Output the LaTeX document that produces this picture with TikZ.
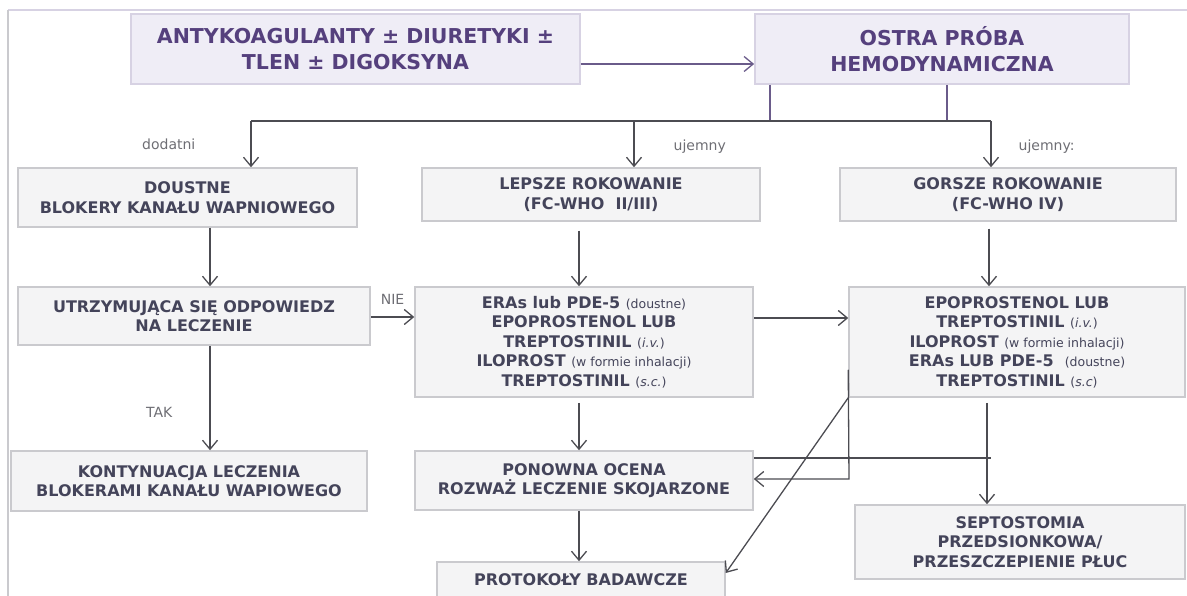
\documentclass[tikz,border=0pt]{standalone}
\usepackage{fontspec}
\setmainfont{DejaVu Sans}
\usetikzlibrary{arrows.meta}
\definecolor{filllila}{HTML}{EFEDF6}
\definecolor{ramalila}{HTML}{D7D2E3}
\definecolor{tekstlila}{HTML}{55407D}
\definecolor{linialila}{HTML}{6A5B8A}
\definecolor{fillszary}{HTML}{F4F4F5}
\definecolor{ramaszara}{HTML}{CACACE}
\definecolor{tekstszary}{HTML}{44445A}
\definecolor{liniaszara}{HTML}{4C4C52}
\definecolor{etykieta}{HTML}{6E6E74}
\newcommand{\drobne}[1]{{\fontsize{12.5}{15}\selectfont\mdseries #1}}

\begin{document}
\begin{tikzpicture}[x=1pt, y=-1pt, >={Straight Barb[length=9pt,width=15pt]},
		topbox/.style={draw=ramalila, line width=1.8pt, fill=filllila, text=tekstlila, align=center,
			font=\fontsize{20.5}{26}\selectfont\bfseries},
		lowbox/.style={draw=ramaszara, line width=1.5pt, fill=fillszary, text=tekstszary, align=center,
			font=\fontsize{16}{19.5}\selectfont\bfseries},
		conn/.style={draw=liniaszara, line width=1.3pt},
		lbl/.style={text=etykieta, font=\fontsize{14}{16}\selectfont, inner sep=1pt}]
		\useasboundingbox (0,0) rectangle (1187,596);
		% ramka
		\draw[ramalila, line width=1.5pt] (8,10) -- (1187,10);
		\draw[ramaszara, line width=1.5pt] (8,10) -- (8,596);

		\node (AK) [topbox, minimum width=449pt, minimum height=70pt] at (355.5,49) {ANTYKOAGULANTY ± DIURETYKI ±\\ TLEN ± DIGOKSYNA};
		\node (OPH) [topbox, minimum width=374pt, minimum height=70pt] at (942,49) {OSTRA PRÓBA\\ HEMODYNAMICZNA};

		\node (DBK) [lowbox, minimum width=339pt, minimum height=59pt] at (187.5,197.5) {DOUSTNE\\ BLOKERY KANAŁU WAPNIOWEGO};
		\node (LR) [lowbox, minimum width=338pt, minimum height=53pt] at (591,194.5) {LEPSZE ROKOWANIE\\ (FC-WHO\ \ II/III)};
		\node (GR) [lowbox, minimum width=336pt, minimum height=53pt] at (1008,194.5) {GORSZE ROKOWANIE\\ (FC-WHO IV)};

		\node (UOL) [lowbox, minimum width=352pt, minimum height=58pt] at (194,316) {UTRZYMUJĄCA SIĘ ODPOWIEDZ\\ NA LECZENIE};
		\node (ERA) [lowbox, minimum width=338pt, minimum height=110pt] at (584,342) {ERAs lub PDE-5 \drobne{(doustne)}\\ EPOPROSTENOL LUB\\ TREPTOSTINIL \drobne{(\textit{i.v.})}\\ ILOPROST \drobne{(w formie inhalacji)}\\ TREPTOSTINIL \drobne{(\textit{s.c.})}};
		\node (EPO) [lowbox, minimum width=336pt, minimum height=110pt] at (1017,342) {EPOPROSTENOL LUB\\ TREPTOSTINIL \drobne{(\textit{i.v.})}\\ ILOPROST \drobne{(w formie inhalacji)}\\ ERAs LUB PDE-5\ \ \drobne{(doustne)}\\ TREPTOSTINIL \drobne{(\textit{s.c})}};

		\node (KLB) [lowbox, minimum width=356pt, minimum height=60pt] at (189,481) {KONTYNUACJA LECZENIA\\ BLOKERAMI KANAŁU WAPIOWEGO};
		\node (POR) [lowbox, minimum width=338pt, minimum height=59pt] at (584,480.5) {PONOWNA OCENA\\ ROZWAŻ LECZENIE SKOJARZONE};
		\node (SPP) [lowbox, minimum width=330pt, minimum height=74pt] at (1020,542) {SEPTOSTOMIA\\ PRZEDSIONKOWA/\\ PRZESZCZEPIENIE PŁUC};
		\node (PB) [lowbox, minimum width=288pt, minimum height=36pt] at (581,580) {PROTOKOŁY BADAWCZE};

		% rozgalezienie
		\coordinate (spL) at (251,121);
		\coordinate (spM) at (634,121);
		\coordinate (spR) at (991,121);
		\draw[->, linialila, line width=1.3pt] ([yshift=-15pt]AK.east) -- ([yshift=-15pt]OPH.west);
		\draw[linialila, line width=1.3pt] ([xshift=-172pt]OPH.south) -- ([xshift=-172pt]OPH.south |- spL);
		\draw[linialila, line width=1.3pt] ([xshift=5pt]OPH.south) -- ([xshift=5pt]OPH.south |- spL);
		\draw[conn] (spL) -- (spR);
		\draw[conn, ->] (spL) -- node[lbl, left=54pt] {dodatni} (spL |- DBK.north);
		\draw[conn, ->] (spM) -- node[lbl, right=38pt, yshift=-3pt] {ujemny} (spM |- LR.north);
		\draw[conn, ->] (spR) -- node[lbl, right=26pt, yshift=-3pt] {ujemny:} (spR |- GR.north);

		\draw[conn, ->] ([xshift=22.5pt]DBK.south) -- ([xshift=16pt]UOL.north);
		\draw[conn, ->] ([xshift=16pt]UOL.south) -- node[lbl, pos=0.64, left=36pt] {TAK} ([xshift=21pt]KLB.north);
		\draw[conn, ->] ([yshift=-1pt]UOL.east) -- node[lbl, above=11pt] {NIE} ([yshift=25pt]ERA.west);
		\draw[conn, ->, shorten <=9pt] ([xshift=-12pt]LR.south) -- ([xshift=-5pt]ERA.north);
		\draw[conn, ->, shorten <=7pt] ([xshift=-19pt]GR.south) -- ([xshift=-28pt]EPO.north);
		\draw[conn, ->] ([yshift=24pt]ERA.east) -- ([yshift=24pt]EPO.west);
		\draw[conn, ->, shorten <=5pt] ([xshift=-5pt]ERA.south) -- ([xshift=-5pt]POR.north);
		\draw[conn, ->] ([xshift=-5pt]POR.south) -- ([xshift=-2pt]PB.north);
		\draw[conn, ->, shorten <=5pt] ([xshift=-30pt]EPO.south) -- ([xshift=-33pt]SPP.north);

		% powroty
		\coordinate (jn) at (991,458);
		\coordinate (lp) at (849,479);
		\draw[conn] (POR.east |- jn) -- (jn);
		\draw[conn, ->] ([yshift=28pt]EPO.south west) -- (lp) -- (lp -| POR.east);
		\draw[conn, ->] (EPO.south west) -- ([yshift=7pt]PB.east);
	\end{tikzpicture}
\end{document}
